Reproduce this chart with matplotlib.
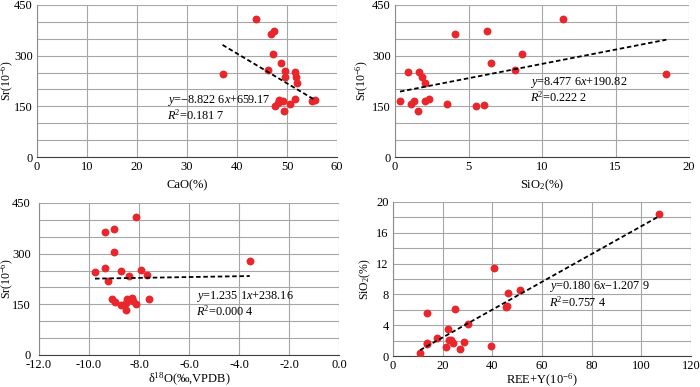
import matplotlib
matplotlib.use("Agg")
import matplotlib.pyplot as plt
import numpy as np
from matplotlib.ticker import MultipleLocator, FormatStrFormatter

plt.rcParams["font.family"] = ["Liberation Serif", "DejaVu Serif"]
plt.rcParams["mathtext.fontset"] = "custom"
plt.rcParams["mathtext.rm"] = "Liberation Serif"
plt.rcParams["mathtext.it"] = "Liberation Serif:italic"

# panel (a): CaO vs Sr
cao = [37.1, 43.7, 46.7, 47.3, 47.2, 46.2, 48.7, 49.6, 49.5, 51.5, 51.7,
       52.0, 51.5, 50.6, 49.1, 48.4, 48.2, 47.5, 49.3, 54.9, 55.5]
sr_a = [245, 408, 364, 372, 304, 259, 278, 254, 236, 251, 236,
        219, 172, 156, 167, 168, 159, 151, 135, 166, 168]

# panel (b): SiO2 vs Sr
sio2_b = [0.34, 0.86, 1.06, 1.29, 1.59, 1.65, 1.81, 2.02, 2.04, 2.29,
          3.53, 4.10, 5.50, 6.02, 6.27, 6.50, 8.13, 8.63, 11.41, 18.46]
sr_b = [167, 253, 157, 167, 135, 251, 237, 220, 167, 171,
        156, 364, 150, 154, 372, 277, 259, 304, 408, 246]

# panel (c): d18O vs Sr
d18o = [-9.76, -9.37, -9.01, -9.01, -9.35, -9.24, -8.73, -8.41, -8.11, -7.93, -7.67,
        -7.59, -9.07, -8.97, -8.73, -8.49, -8.51, -8.53, -8.28, -8.25, -8.11, -3.57]
sr_c = [246, 364, 372, 304, 258, 218, 249, 234, 408, 253, 236,
        167, 165, 156, 148, 167, 134, 155, 170, 160, 152, 278]

# panel (d): REE+Y vs SiO2
ree = [10.9, 13.5, 13.7, 13.5, 17.8, 21.3, 22.3, 22.5, 23.3, 24.3, 25.0,
       27.0, 28.4, 30.1, 39.6, 40.8, 45.6, 46.1, 46.3, 51.0, 107.1]
sio2_d = [0.35, 1.74, 1.57, 5.52, 2.30, 1.13, 3.57, 2.09, 2.09, 1.70, 6.04,
          0.87, 1.87, 4.13, 1.30, 11.43, 6.30, 6.52, 8.13, 8.61, 18.48]

# trend line coefficients (slope, intercept) as printed on the chart
fits = [(-8.8226, 659.17), (8.4776, 190.82), (1.2351, 238.16), (0.1806, -1.2079)]
eq_text = [
    ("$y$=−8.822 6$x$+659.17", "$R$$^2$=0.181 7"),
    ("$y$=8.477 6$x$+190.82", "$R$$^2$=0.222 2"),
    ("$y$=1.235 1$x$+238.16", "$R$$^2$=0.000 4"),
    ("$y$=0.180 6$x$−1.207 9", "$R$$^2$=0.757 4"),
]

RED = "#e8262b"
GRID = "#a6a6a6"

fig = plt.figure(figsize=(7, 3.87), dpi=100)
rects = [
    [0.0529, 0.5943, 0.4286, 0.3928],
    [0.5643, 0.5943, 0.4200, 0.3928],
    [0.0557, 0.0827, 0.4286, 0.3928],
    [0.5614, 0.0801, 0.4257, 0.3980],
]
axes = [fig.add_axes(r) for r in rects]

# x range, x step, y range, y label step, y grid step, labels, equation anchor
panels = [
    (cao, sr_a, (0, 60), 10, (0, 450), 150, 50, "CaO(%)", "Sr(10$^{-6}$)", (25.9, 168, 124)),
    (sio2_b, sr_b, (0, 20), 5, (0, 450), 150, 50, "SiO$_2$(%)", "Sr(10$^{-6}$)", (9.17, 221, 176)),
    (d18o, sr_c, (-12, 0), 2, (0, 450), 150, 50, "δ$^{18}$O(‰,VPDB)", "Sr(10$^{-6}$)", (-5.71, 173, 129)),
    (ree, sio2_d, (0, 120), 20, (0, 20), 4, 2, "REE+Y(10$^{-6}$)", "SiO$_2$(%)", (63.0, 9.0, 7.0)),
]
ylabel_x = [-0.098, -0.109, -0.104, -0.094]
xlabel_y = [-0.184, -0.184, -0.158, -0.156]

for i, (ax, p) in enumerate(zip(axes, panels)):
    x, y, xlim, xstep, ylim, ystep, yminor, xlabel, ylabel, (tx, ty1, ty2) = p
    x = np.array(x)
    ax.set_xlim(*xlim)
    ax.set_ylim(*ylim)
    ax.xaxis.set_major_locator(MultipleLocator(xstep))
    ax.yaxis.set_major_locator(MultipleLocator(ystep))
    ax.yaxis.set_minor_locator(MultipleLocator(yminor))
    ax.grid(True, which="both", color=GRID, lw=0.8)
    ax.set_axisbelow(True)
    ax.tick_params(which="both", length=0, labelsize=9, pad=3)
    for s in ["top", "right"]:
        ax.spines[s].set_visible(False)
    ax.spines["left"].set_color("#8c8c8c")
    ax.spines["bottom"].set_color("#404040")
    if i == 2:
        ax.xaxis.set_major_formatter(FormatStrFormatter("%.1f"))
        ax.tick_params(axis="y", pad=6)

    ax.scatter(x, y, s=32, color=RED, zorder=3, linewidths=0)
    k, b = fits[i]
    xs = np.array([x.min(), x.max()])
    ax.plot(xs, k * xs + b, ls=(0, (2.5, 1.5)), color="black", lw=1.3, zorder=4)

    ax.text(tx, ty1, eq_text[i][0], fontsize=8.8, va="center", ha="left", zorder=5)
    ax.text(tx, ty2, eq_text[i][1], fontsize=8.8, va="center", ha="left", zorder=5)

    ax.set_xlabel(xlabel, fontsize=9)
    ax.set_ylabel(ylabel, fontsize=8.5)
    ax.xaxis.label.set_va("center")
    ax.yaxis.label.set_va("center")
    ax.xaxis.set_label_coords(0.5, xlabel_y[i])
    ax.yaxis.set_label_coords(ylabel_x[i], 0.5)

fig.savefig("out.png", dpi=100)
